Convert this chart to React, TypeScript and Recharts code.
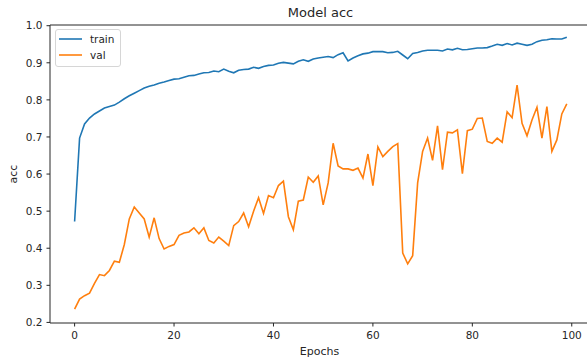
import React from 'react';
import { LineChart, Line, XAxis, YAxis, ReferenceLine, Legend } from 'recharts';

const epochs: number[] = Array.from({ length: 100 }, (_, i) => i);

const trainAcc: number[] = [
  0.472, 0.697, 0.735, 0.751, 0.762, 0.770, 0.778, 0.782, 0.786, 0.794,
  0.803, 0.811, 0.818, 0.825, 0.832, 0.837, 0.840, 0.845, 0.848, 0.852,
  0.856, 0.857, 0.861, 0.865, 0.866, 0.870, 0.873, 0.874, 0.878, 0.876,
  0.883, 0.877, 0.873, 0.880, 0.882, 0.883, 0.888, 0.885, 0.890, 0.893,
  0.894, 0.899, 0.901, 0.899, 0.897, 0.904, 0.908, 0.904, 0.910, 0.913,
  0.915, 0.917, 0.914, 0.922, 0.927, 0.905, 0.913, 0.919, 0.924, 0.926,
  0.930, 0.930, 0.930, 0.927, 0.928, 0.931, 0.921, 0.911, 0.925, 0.928,
  0.932, 0.934, 0.934, 0.934, 0.932, 0.937, 0.935, 0.939, 0.935, 0.936,
  0.938, 0.940, 0.940, 0.941, 0.945, 0.950, 0.947, 0.952, 0.948, 0.953,
  0.950, 0.947, 0.950, 0.957, 0.961, 0.962, 0.965, 0.964, 0.964, 0.969,
];

const valAcc: number[] = [
  0.236, 0.263, 0.272, 0.279, 0.305, 0.329, 0.326, 0.340, 0.365, 0.362,
  0.410, 0.479, 0.511, 0.495, 0.479, 0.430, 0.482, 0.426, 0.398, 0.405,
  0.410, 0.435, 0.441, 0.444, 0.455, 0.439, 0.455, 0.421, 0.414, 0.430,
  0.419, 0.407, 0.461, 0.472, 0.495, 0.458, 0.500, 0.536, 0.494, 0.542,
  0.536, 0.569, 0.581, 0.485, 0.450, 0.527, 0.530, 0.592, 0.578, 0.595,
  0.517, 0.576, 0.683, 0.622, 0.614, 0.614, 0.610, 0.616, 0.589, 0.654,
  0.569, 0.673, 0.647, 0.661, 0.674, 0.682, 0.387, 0.358, 0.380, 0.576,
  0.661, 0.697, 0.637, 0.730, 0.612, 0.713, 0.711, 0.719, 0.601, 0.717,
  0.721, 0.750, 0.751, 0.688, 0.683, 0.697, 0.686, 0.768, 0.752, 0.840,
  0.737, 0.703, 0.746, 0.780, 0.697, 0.782, 0.661, 0.692, 0.762, 0.789,
];

const xTicks: number[] = [0, 20, 40, 60, 80, 100];
const yTicks: number[] = [0.2, 0.3, 0.4, 0.5, 0.6, 0.7, 0.8, 0.9, 1.0];

const seriesNames = ['train', 'val'];
const seriesColors = ['#1f77b4', '#ff7f0e'];

const data = epochs.map((e, i) => ({ epoch: e, train: trainAcc[i], val: valAcc[i] }));

const FONT = '"DejaVu Sans", sans-serif';
const INK = '#262626';
const X_DOMAIN: [number, number] = [-4.95, 103.95];
const Y_DOMAIN: [number, number] = [0.1984, 1.0019];

const LegendBox = () => (
  <svg width={67} height={39} style={{ display: 'block' }}>
    <rect x={0.5} y={0.5} width={65} height={37} rx={2.5} ry={2.5}
      fill="#ffffff" fillOpacity={0.8} stroke="#d6d6d6" strokeWidth={1} />
    {seriesNames.map((name, i) => (
      <g key={name}>
        <line x1={4} x2={27} y1={10 + i * 16} y2={10 + i * 16}
          stroke={seriesColors[i]} strokeWidth={1.6} />
        <text x={35} y={14 + i * 16} fontFamily={FONT} fontSize={10.5} fill={INK}>{name}</text>
      </g>
    ))}
  </svg>
);

export default function App() {
  return (
    <div style={{ position: 'absolute', left: 0, top: 0, width: 587, height: 360, overflow: 'hidden', background: '#ffffff' }}>
      <LineChart width={600} height={360} data={data}
        margin={{ top: 25, right: 8.6, bottom: 0, left: 0 }}>
        <XAxis dataKey="epoch" type="number" domain={X_DOMAIN} ticks={xTicks}
          allowDataOverflow interval={0} height={37} tickSize={3.5} tickMargin={5}
          stroke={INK} tick={{ fill: INK, fontSize: 10.5, fontFamily: FONT }} />
        <YAxis type="number" domain={Y_DOMAIN} ticks={yTicks} allowDataOverflow
          interval={0} width={50} tickSize={3.5} tickMargin={4}
          tickFormatter={(v: number) => v.toFixed(1)}
          stroke={INK} tick={{ fill: INK, fontSize: 10.5, fontFamily: FONT }} />
        <ReferenceLine y={Y_DOMAIN[1]} stroke={INK} strokeWidth={1} />
        <ReferenceLine x={X_DOMAIN[1]} stroke={INK} strokeWidth={1} />
        <Line type="linear" dataKey="train" stroke={seriesColors[0]} strokeWidth={1.6}
          dot={false} isAnimationActive={false} />
        <Line type="linear" dataKey="val" stroke={seriesColors[1]} strokeWidth={1.6}
          dot={false} isAnimationActive={false} />
        <Legend layout="horizontal" verticalAlign="middle" align="center"
          content={() => <LegendBox />}
          wrapperStyle={{ position: 'absolute', left: 55, top: 29, width: 67, height: 39 }} />
      </LineChart>
      <svg width={587} height={360} style={{ position: 'absolute', left: 0, top: 0, pointerEvents: 'none' }}>
        <text x={320.5} y={17} textAnchor="middle" fontFamily={FONT} fontSize={13} fill={INK}>Model acc</text>
        <text x={319.5} y={354.5} textAnchor="middle" fontFamily={FONT} fontSize={11} fill={INK}>Epochs</text>
        <text x={16.7} y={174} textAnchor="middle" fontFamily={FONT} fontSize={11} fill={INK}
          transform="rotate(-90 16.7 174)">acc</text>
      </svg>
    </div>
  );
}
